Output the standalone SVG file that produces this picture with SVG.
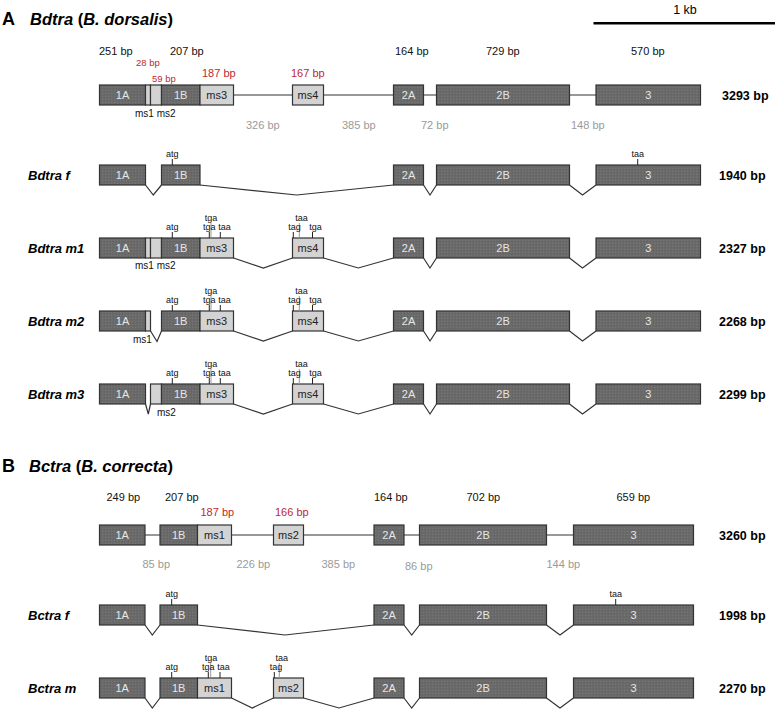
<svg xmlns="http://www.w3.org/2000/svg" width="778" height="711" viewBox="0 0 778 711">
<defs>
<pattern id="stip" width="3" height="3" patternUnits="userSpaceOnUse">
<rect width="3" height="3" fill="#6a6a6a"/>
<rect x="0" y="0" width="1" height="1" fill="#777"/>
<rect x="2" y="1" width="1" height="1" fill="#626262"/>
</pattern>
<style>
text{font-family:"Liberation Sans",Arial,sans-serif}
.dk{fill:url(#stip);stroke:#333;stroke-width:1.2}
.lt{fill:#d3d3d3;stroke:#333;stroke-width:1.2}
.ex{font-size:11px;fill:#e6e6e6;text-anchor:middle}
.exl{font-size:11px;fill:#222;text-anchor:middle}
.bp{font-size:11px;fill:#111}
.red{font-size:11px;fill:#c0272d}
.reds{font-size:9.5px;fill:#c0272d}
.gr{font-size:11px;fill:#9a9a9a}
.ms{font-size:10px;fill:#111}
.cod{font-size:9px;fill:#111;text-anchor:middle}
.row{font-size:13px;font-weight:bold;font-style:italic;fill:#000}
.tot{font-size:12.5px;font-weight:bold;fill:#000}
.ttl{font-size:16.5px;font-weight:bold;fill:#000}
.sec{font-size:18px;font-weight:bold;fill:#000}
.ln{fill:none;stroke:#333;stroke-width:1.2}
.tk{stroke:#222;stroke-width:1}
.tkg{stroke:#999;stroke-width:1}
</style>
</defs>

<!-- Titles and scale -->
<text class="sec" x="2" y="25">A</text>
<text class="ttl" x="30" y="25"><tspan font-style="italic">Bdtra</tspan> (<tspan font-style="italic">B. dorsalis</tspan>)</text>
<line x1="593.5" y1="23.3" x2="775" y2="23.3" stroke="#000" stroke-width="2.5"/>
<text x="685" y="13.5" font-size="12.5" text-anchor="middle" fill="#000">1 kb</text>
<text class="sec" x="2" y="472">B</text>
<text class="ttl" x="29" y="472"><tspan font-style="italic">Bctra</tspan> (<tspan font-style="italic">B. correcta</tspan>)</text>

<!-- Connectors -->
<g id="connectors">
<line class="ln" x1="99.5" y1="95" x2="700.5" y2="95"/>
<polyline class="ln" points="145.5,185 153.3,195 161.5,185"/>
<polyline class="ln" points="200,185 296.7,195 393.5,185"/>
<polyline class="ln" points="423.5,185 430,195 436.5,185"/>
<polyline class="ln" points="569.5,185 582.5,195 596,185"/>
<polyline class="ln" points="233.5,258 263.3,268 292.5,258"/>
<polyline class="ln" points="323.5,258 358.3,268 393.5,258"/>
<polyline class="ln" points="423.5,258 430,268 436.5,258"/>
<polyline class="ln" points="569.5,258 582.5,268 596,258"/>
<polyline class="ln" points="150.5,331 157,341.5 161.5,331"/>
<polyline class="ln" points="233.5,331 263.3,341 292.5,331"/>
<polyline class="ln" points="323.5,331 358.3,341 393.5,331"/>
<polyline class="ln" points="423.5,331 430,341 436.5,331"/>
<polyline class="ln" points="569.5,331 582.5,341 596,331"/>
<polyline class="ln" points="145.5,404 148.3,414 150.5,404"/>
<polyline class="ln" points="233.5,404 263.3,414 292.5,404"/>
<polyline class="ln" points="323.5,404 358.3,414 393.5,404"/>
<polyline class="ln" points="423.5,404 430,414 436.5,404"/>
<polyline class="ln" points="569.5,404 582.5,414 596,404"/>
<line class="ln" x1="99.5" y1="535" x2="693.5" y2="535"/>
<polyline class="ln" points="145,625 152.3,635 160,625"/>
<polyline class="ln" points="197.5,625 285,635 374,625"/>
<polyline class="ln" points="404,625 411.7,635 419.5,625"/>
<polyline class="ln" points="546.5,625 560,635 573.5,625"/>
<polyline class="ln" points="145,698 152.3,708 160,698"/>
<polyline class="ln" points="231.5,698 252.3,708 273.5,698"/>
<polyline class="ln" points="303.5,698 339,708 374,698"/>
<polyline class="ln" points="404,698 411.7,708 419.5,698"/>
<polyline class="ln" points="546.5,698 560,708 573.5,698"/>
</g>

<!-- A genomic -->
<g id="A-labels">
<text class="bp" x="99" y="54.5">251 bp</text>
<text class="bp" x="170" y="54.5">207 bp</text>
<text class="bp" x="395" y="54.5">164 bp</text>
<text class="bp" x="486" y="54.5">729 bp</text>
<text class="bp" x="631" y="54.5">570 bp</text>
<text class="reds" x="136" y="65.5">28 bp</text>
<text class="reds" x="152" y="82">59 bp</text>
<text class="red" x="202" y="77">187 bp</text>
<text class="red" x="291" y="77">167 bp</text>
<text class="ms" x="135" y="117">ms1 ms2</text>
<text class="gr" x="246" y="128.5">326 bp</text>
<text class="gr" x="342" y="128.5">385 bp</text>
<text class="gr" x="421" y="128.5">72 bp</text>
<text class="gr" x="571" y="128.5">148 bp</text>
<text class="tot" x="722" y="99.5">3293 bp</text>
</g>
<g id="A-gen-1A"><rect class="dk" x="99.5" y="85" width="46" height="20"/><text class="ex" x="122.5" y="99">1A</text></g>
<g id="A-gen-ms1"><rect class="lt" x="145.5" y="85" width="5" height="20"/></g>
<g id="A-gen-ms2"><rect class="lt" x="150.5" y="85" width="11" height="20"/></g>
<g id="A-gen-1B"><rect class="dk" x="161.5" y="85" width="38.5" height="20"/><text class="ex" x="180.7" y="99">1B</text></g>
<g id="A-gen-ms3"><rect class="lt" x="200" y="85" width="33.5" height="20"/><text class="exl" x="216.7" y="99">ms3</text></g>
<g id="A-gen-ms4"><rect class="lt" x="292.5" y="85" width="31" height="20"/><text class="exl" x="308" y="99">ms4</text></g>
<g id="A-gen-2A"><rect class="dk" x="393.5" y="85" width="30" height="20"/><text class="ex" x="408.5" y="99">2A</text></g>
<g id="A-gen-2B"><rect class="dk" x="436.5" y="85" width="133" height="20"/><text class="ex" x="503" y="99">2B</text></g>
<g id="A-gen-3"><rect class="dk" x="596" y="85" width="104.5" height="20"/><text class="ex" x="648.3" y="99">3</text></g>

<!-- Bdtra f -->
<text class="row" x="28" y="179.5">Bdtra f</text>
<text class="tot" x="719" y="179.5">1940 bp</text>
<g id="Af-1A"><rect class="dk" x="99.5" y="165" width="46" height="20"/><text class="ex" x="122.5" y="179">1A</text></g>
<g id="Af-1B"><rect class="dk" x="161.5" y="165" width="38.5" height="20"/><text class="ex" x="180.7" y="179">1B</text></g>
<g id="Af-2A"><rect class="dk" x="393.5" y="165" width="30" height="20"/><text class="ex" x="408.5" y="179">2A</text></g>
<g id="Af-2B"><rect class="dk" x="436.5" y="165" width="133" height="20"/><text class="ex" x="503" y="179">2B</text></g>
<g id="Af-3"><rect class="dk" x="596" y="165" width="104.5" height="20"/><text class="ex" x="648.3" y="179">3</text></g>
<g id="Af-codons">
<line class="tk" x1="172.3" y1="159" x2="172.3" y2="165"/><text class="cod" x="172.3" y="157">atg</text>
<line class="tk" x1="637.7" y1="159" x2="637.7" y2="165"/><text class="cod" x="637.7" y="157">taa</text>
</g>

<!-- Bdtra m1 -->
<text class="row" x="28" y="252.5">Bdtra m1</text>
<text class="tot" x="719" y="252.5">2327 bp</text>
<text class="ms" x="135" y="269">ms1 ms2</text>
<g id="Am1-1A"><rect class="dk" x="99.5" y="238" width="46" height="20"/><text class="ex" x="122.5" y="252">1A</text></g>
<g id="Am1-ms1"><rect class="lt" x="145.5" y="238" width="5" height="20"/></g>
<g id="Am1-ms2"><rect class="lt" x="150.5" y="238" width="11" height="20"/></g>
<g id="Am1-1B"><rect class="dk" x="161.5" y="238" width="38.5" height="20"/><text class="ex" x="180.7" y="252">1B</text></g>
<g id="Am1-ms3"><rect class="lt" x="200" y="238" width="33.5" height="20"/><text class="exl" x="216.7" y="252">ms3</text></g>
<g id="Am1-ms4"><rect class="lt" x="292.5" y="238" width="31" height="20"/><text class="exl" x="308" y="252">ms4</text></g>
<g id="Am1-2A"><rect class="dk" x="393.5" y="238" width="30" height="20"/><text class="ex" x="408.5" y="252">2A</text></g>
<g id="Am1-2B"><rect class="dk" x="436.5" y="238" width="133" height="20"/><text class="ex" x="503" y="252">2B</text></g>
<g id="Am1-3"><rect class="dk" x="596" y="238" width="104.5" height="20"/><text class="ex" x="648.3" y="252">3</text></g>
<g id="Am1-codons">
<line class="tk" x1="172.3" y1="232" x2="172.3" y2="238"/><text class="cod" x="172.3" y="230">atg</text>
<line class="tkg" x1="211" y1="223" x2="211" y2="238"/><text class="cod" x="211" y="221">tga</text>
<line class="tk" x1="209.3" y1="232" x2="209.3" y2="238"/><text class="cod" x="209.3" y="230">tga</text>
<line class="tk" x1="220.3" y1="232" x2="220.3" y2="238"/><text class="cod" x="224.5" y="230">taa</text>
<line class="tkg" x1="299.3" y1="223" x2="299.3" y2="238"/><text class="cod" x="301.5" y="221">taa</text>
<line class="tk" x1="293.3" y1="232" x2="293.3" y2="238"/><text class="cod" x="294.5" y="230">tag</text>
<line class="tk" x1="312.5" y1="232" x2="312.5" y2="238"/><text class="cod" x="315.5" y="230">tga</text>
</g>

<!-- Bdtra m2 -->
<text class="row" x="28" y="325.5">Bdtra m2</text>
<text class="tot" x="719" y="325.5">2268 bp</text>
<text class="ms" x="133" y="343">ms1</text>
<g id="Am2-1A"><rect class="dk" x="99.5" y="311" width="46" height="20"/><text class="ex" x="122.5" y="325">1A</text></g>
<g id="Am2-ms1"><rect class="lt" x="145.5" y="311" width="5" height="20"/></g>
<g id="Am2-1B"><rect class="dk" x="161.5" y="311" width="38.5" height="20"/><text class="ex" x="180.7" y="325">1B</text></g>
<g id="Am2-ms3"><rect class="lt" x="200" y="311" width="33.5" height="20"/><text class="exl" x="216.7" y="325">ms3</text></g>
<g id="Am2-ms4"><rect class="lt" x="292.5" y="311" width="31" height="20"/><text class="exl" x="308" y="325">ms4</text></g>
<g id="Am2-2A"><rect class="dk" x="393.5" y="311" width="30" height="20"/><text class="ex" x="408.5" y="325">2A</text></g>
<g id="Am2-2B"><rect class="dk" x="436.5" y="311" width="133" height="20"/><text class="ex" x="503" y="325">2B</text></g>
<g id="Am2-3"><rect class="dk" x="596" y="311" width="104.5" height="20"/><text class="ex" x="648.3" y="325">3</text></g>
<g id="Am2-codons">
<line class="tk" x1="172.3" y1="305" x2="172.3" y2="311"/><text class="cod" x="172.3" y="303">atg</text>
<line class="tkg" x1="211" y1="296" x2="211" y2="311"/><text class="cod" x="211" y="294">tga</text>
<line class="tk" x1="209.3" y1="305" x2="209.3" y2="311"/><text class="cod" x="209.3" y="303">tga</text>
<line class="tk" x1="220.3" y1="305" x2="220.3" y2="311"/><text class="cod" x="224.5" y="303">taa</text>
<line class="tkg" x1="299.3" y1="296" x2="299.3" y2="311"/><text class="cod" x="301.5" y="294">taa</text>
<line class="tk" x1="293.3" y1="305" x2="293.3" y2="311"/><text class="cod" x="294.5" y="303">tag</text>
<line class="tk" x1="312.5" y1="305" x2="312.5" y2="311"/><text class="cod" x="315.5" y="303">tga</text>
</g>

<!-- Bdtra m3 -->
<text class="row" x="28" y="398.5">Bdtra m3</text>
<text class="tot" x="719" y="398.5">2299 bp</text>
<text class="ms" x="157" y="416">ms2</text>
<g id="Am3-1A"><rect class="dk" x="99.5" y="384" width="46" height="20"/><text class="ex" x="122.5" y="398">1A</text></g>
<g id="Am3-ms2"><rect class="lt" x="150.5" y="384" width="11" height="20"/></g>
<g id="Am3-1B"><rect class="dk" x="161.5" y="384" width="38.5" height="20"/><text class="ex" x="180.7" y="398">1B</text></g>
<g id="Am3-ms3"><rect class="lt" x="200" y="384" width="33.5" height="20"/><text class="exl" x="216.7" y="398">ms3</text></g>
<g id="Am3-ms4"><rect class="lt" x="292.5" y="384" width="31" height="20"/><text class="exl" x="308" y="398">ms4</text></g>
<g id="Am3-2A"><rect class="dk" x="393.5" y="384" width="30" height="20"/><text class="ex" x="408.5" y="398">2A</text></g>
<g id="Am3-2B"><rect class="dk" x="436.5" y="384" width="133" height="20"/><text class="ex" x="503" y="398">2B</text></g>
<g id="Am3-3"><rect class="dk" x="596" y="384" width="104.5" height="20"/><text class="ex" x="648.3" y="398">3</text></g>
<g id="Am3-codons">
<line class="tk" x1="172.3" y1="378" x2="172.3" y2="384"/><text class="cod" x="172.3" y="376">atg</text>
<line class="tkg" x1="211" y1="369" x2="211" y2="384"/><text class="cod" x="211" y="367">tga</text>
<line class="tk" x1="209.3" y1="378" x2="209.3" y2="384"/><text class="cod" x="209.3" y="376">tga</text>
<line class="tk" x1="220.3" y1="378" x2="220.3" y2="384"/><text class="cod" x="224.5" y="376">taa</text>
<line class="tkg" x1="299.3" y1="369" x2="299.3" y2="384"/><text class="cod" x="301.5" y="367">taa</text>
<line class="tk" x1="293.3" y1="378" x2="293.3" y2="384"/><text class="cod" x="294.5" y="376">tag</text>
<line class="tk" x1="312.5" y1="378" x2="312.5" y2="384"/><text class="cod" x="315.5" y="376">tga</text>
</g>

<!-- B genomic -->
<g id="B-labels">
<text class="bp" x="106.5" y="501">249 bp</text>
<text class="bp" x="165" y="501">207 bp</text>
<text class="bp" x="374" y="501">164 bp</text>
<text class="bp" x="466.5" y="501">702 bp</text>
<text class="bp" x="616.5" y="501">659 bp</text>
<text class="red" x="200.5" y="516">187 bp</text>
<text class="red" x="275" y="516">166 bp</text>
<text class="gr" x="142.5" y="568">85 bp</text>
<text class="gr" x="236.5" y="568">226 bp</text>
<text class="gr" x="321.5" y="568">385 bp</text>
<text class="gr" x="405" y="569.5">86 bp</text>
<text class="gr" x="546.5" y="568">144 bp</text>
<text class="tot" x="719" y="539.5">3260 bp</text>
</g>
<g id="B-gen-1A"><rect class="dk" x="99.5" y="525" width="45.5" height="20"/><text class="ex" x="122.2" y="539">1A</text></g>
<g id="B-gen-1B"><rect class="dk" x="160" y="525" width="37.5" height="20"/><text class="ex" x="178.7" y="539">1B</text></g>
<g id="B-gen-ms1"><rect class="lt" x="197.5" y="525" width="34" height="20"/><text class="exl" x="214.5" y="539">ms1</text></g>
<g id="B-gen-ms2"><rect class="lt" x="273.5" y="525" width="30" height="20"/><text class="exl" x="288.5" y="539">ms2</text></g>
<g id="B-gen-2A"><rect class="dk" x="374" y="525" width="30" height="20"/><text class="ex" x="389" y="539">2A</text></g>
<g id="B-gen-2B"><rect class="dk" x="419.5" y="525" width="127" height="20"/><text class="ex" x="483" y="539">2B</text></g>
<g id="B-gen-3"><rect class="dk" x="573.5" y="525" width="120" height="20"/><text class="ex" x="633.5" y="539">3</text></g>

<!-- Bctra f -->
<text class="row" x="28" y="619.5">Bctra f</text>
<text class="tot" x="719" y="619.5">1998 bp</text>
<g id="Bf-1A"><rect class="dk" x="99.5" y="605" width="45.5" height="20"/><text class="ex" x="122.2" y="619">1A</text></g>
<g id="Bf-1B"><rect class="dk" x="160" y="605" width="37.5" height="20"/><text class="ex" x="178.7" y="619">1B</text></g>
<g id="Bf-2A"><rect class="dk" x="374" y="605" width="30" height="20"/><text class="ex" x="389" y="619">2A</text></g>
<g id="Bf-2B"><rect class="dk" x="419.5" y="605" width="127" height="20"/><text class="ex" x="483" y="619">2B</text></g>
<g id="Bf-3"><rect class="dk" x="573.5" y="605" width="120" height="20"/><text class="ex" x="633.5" y="619">3</text></g>
<g id="Bf-codons">
<line class="tk" x1="171.7" y1="599" x2="171.7" y2="605"/><text class="cod" x="171.7" y="597">atg</text>
<line class="tk" x1="615.7" y1="599" x2="615.7" y2="605"/><text class="cod" x="615.7" y="597">taa</text>
</g>

<!-- Bctra m -->
<text class="row" x="28" y="692.5">Bctra m</text>
<text class="tot" x="719" y="692.5">2270 bp</text>
<g id="Bm-1A"><rect class="dk" x="99.5" y="678" width="45.5" height="20"/><text class="ex" x="122.2" y="692">1A</text></g>
<g id="Bm-1B"><rect class="dk" x="160" y="678" width="37.5" height="20"/><text class="ex" x="178.7" y="692">1B</text></g>
<g id="Bm-ms1"><rect class="lt" x="197.5" y="678" width="34" height="20"/><text class="exl" x="214.5" y="692">ms1</text></g>
<g id="Bm-ms2"><rect class="lt" x="273.5" y="678" width="30" height="20"/><text class="exl" x="288.5" y="692">ms2</text></g>
<g id="Bm-2A"><rect class="dk" x="374" y="678" width="30" height="20"/><text class="ex" x="389" y="692">2A</text></g>
<g id="Bm-2B"><rect class="dk" x="419.5" y="678" width="127" height="20"/><text class="ex" x="483" y="692">2B</text></g>
<g id="Bm-3"><rect class="dk" x="573.5" y="678" width="120" height="20"/><text class="ex" x="633.5" y="692">3</text></g>
<g id="Bm-codons">
<line class="tk" x1="171.7" y1="672" x2="171.7" y2="678"/><text class="cod" x="171.7" y="670">atg</text>
<line class="tkg" x1="210.7" y1="663" x2="210.7" y2="678"/><text class="cod" x="211" y="661">tga</text>
<line class="tk" x1="208.3" y1="672" x2="208.3" y2="678"/><text class="cod" x="208.3" y="670">tga</text>
<line class="tk" x1="220" y1="672" x2="220" y2="678"/><text class="cod" x="223.5" y="670">taa</text>
<line class="tkg" x1="279.3" y1="663" x2="279.3" y2="678"/><text class="cod" x="281.7" y="661">taa</text>
<line class="tk" x1="274.3" y1="672" x2="274.3" y2="678"/><text class="cod" x="276" y="670">tag</text>
</g>
</svg>
